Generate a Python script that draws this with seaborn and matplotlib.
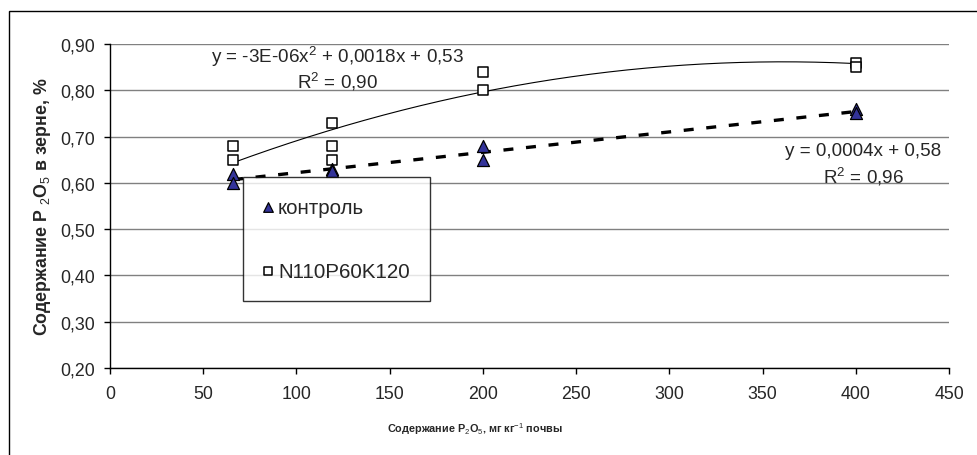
import numpy as np
import pandas as pd
import matplotlib
matplotlib.use("Agg")
import matplotlib.pyplot as plt
from matplotlib.ticker import FuncFormatter
from matplotlib.patches import Rectangle
import seaborn as sns

# Data
control_x = [66, 66, 119, 119, 200, 200, 400, 400]
control_y = [0.62, 0.60, 0.63, 0.625, 0.68, 0.65, 0.76, 0.75]

npk_x = [66, 66, 119, 119, 119, 200, 200, 400, 400]
npk_y = [0.68, 0.65, 0.73, 0.68, 0.65, 0.84, 0.80, 0.86, 0.85]

x_ticks = [0, 50, 100, 150, 200, 250, 300, 350, 400, 450]
y_ticks = [0.20, 0.30, 0.40, 0.50, 0.60, 0.70, 0.80, 0.90]

sns.set_style("white")
plt.rcParams['font.family'] = ['Liberation Sans', 'DejaVu Sans']
plt.rcParams['mathtext.fontset'] = 'custom'
plt.rcParams['mathtext.rm'] = 'Liberation Sans'
plt.rcParams['mathtext.it'] = 'Liberation Sans'
plt.rcParams['mathtext.bf'] = 'Liberation Sans:bold'


def comma(v, pos):
    return f"{v:.2f}".replace('.', ',')


def main():
    fig = plt.figure(figsize=(9.77, 4.56), dpi=100)
    ax = fig.add_axes([0.1126, 0.1908, 0.8588, 0.7105])

    # outer chart border (cut off on right/bottom like the source)
    fig.patches.append(Rectangle((9 / 977, -0.05), 1.2, 1 - 12 / 456 + 0.05,
                                 transform=fig.transFigure, fill=False,
                                 edgecolor='black', linewidth=1.0))

    ctrl = pd.DataFrame({'x': control_x, 'y': control_y})
    npk = pd.DataFrame({'x': npk_x, 'y': npk_y})

    # trend lines fitted from the data
    xs = np.linspace(min(npk_x), max(npk_x), 200)
    p2 = np.polyfit(npk['x'], npk['y'], 2)
    sns.lineplot(x=xs, y=np.polyval(p2, xs), ax=ax, color='black',
                 linewidth=0.8, zorder=3)
    xl = np.linspace(min(control_x), max(control_x), 200)
    p1 = np.polyfit(ctrl['x'], ctrl['y'], 1)
    sns.lineplot(x=xl, y=np.polyval(p1, xl), ax=ax, color='black',
                 linewidth=2.4, zorder=3)
    ax.lines[-1].set_dashes((3.0, 3.8))

    sns.scatterplot(data=npk, x='x', y='y', ax=ax, marker='s', s=55,
                    facecolor='white', edgecolor='black', linewidth=1.1,
                    label='N110P60K120', zorder=4)
    sns.scatterplot(data=ctrl, x='x', y='y', ax=ax, marker='^', s=75,
                    color='#333399', edgecolor='black', linewidth=0.9,
                    label='контроль', zorder=5)

    ax.set_xlim(0, 450)
    ax.set_ylim(0.20, 0.90)
    ax.set_xticks(x_ticks)
    ax.set_yticks(y_ticks)
    ax.yaxis.set_major_formatter(FuncFormatter(comma))
    ax.xaxis.set_major_formatter(FuncFormatter(lambda v, p: f"{v:.0f}"))
    ax.grid(axis='y', color='#808080', linewidth=1.0)
    ax.set_axisbelow(True)
    for s in ['top', 'right']:
        ax.spines[s].set_visible(False)
    for s in ['left', 'bottom']:
        ax.spines[s].set_color('black')
        ax.spines[s].set_linewidth(1.0)
    ax.tick_params(axis='both', direction='out', length=4, width=1,
                   color='black', labelsize=12.8, bottom=True, left=True)
    ax.tick_params(axis='y', pad=7)
    ax.tick_params(axis='x', pad=8)

    ax.set_ylabel('Содержание P $_2$O$_5$ в зерне, %', fontsize=12.8,
                  fontweight='bold')
    ax.yaxis.set_label_coords(-0.068, 0.5)
    ax.set_xlabel('Содержание P$_2$O$_5$, мг кг$^{-1}$ почвы', fontsize=7.8,
                  fontweight='bold')
    ax.xaxis.set_label_coords(0.435, -0.16)

    ax.text(122, 0.874, 'y = -3E-06x$^2$ + 0,0018x + 0,53', ha='center',
            va='center', fontsize=13.6)
    ax.text(122, 0.82, 'R$^2$ = 0,90', ha='center', va='center', fontsize=13.6)
    ax.text(404, 0.669, 'y = 0,0004x + 0,58', ha='center', va='center',
            fontsize=13.6)
    ax.text(404, 0.615, 'R$^2$ = 0,96', ha='center', va='center',
            fontsize=13.6)

    handles, labels = ax.get_legend_handles_labels()
    order = [labels.index('контроль'), labels.index('N110P60K120')]
    leg = ax.legend([handles[i] for i in order], [labels[i] for i in order],
                    loc='upper left', bbox_to_anchor=(0.1585, 0.5895),
                    borderaxespad=0, frameon=True, fancybox=False,
                    edgecolor='black', fontsize=14.8, labelspacing=2.2,
                    borderpad=1.0, handletextpad=0.25, handlelength=0.45,
                    markerscale=0.8)
    leg.get_frame().set_linewidth(1.0)
    leg.set_zorder(6)

    fig.savefig('out.png', dpi=100)


if __name__ == "__main__":
    main()
